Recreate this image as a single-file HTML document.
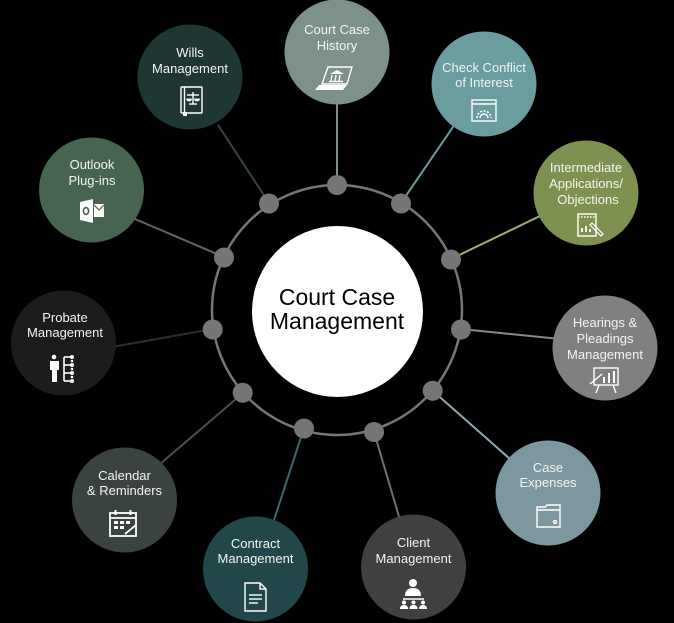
<!DOCTYPE html>
<html><head><meta charset="utf-8"><style>
html,body{margin:0;padding:0;background:#000;}
svg{display:block;}
text{font-family:"Liberation Sans",Arial,sans-serif;}
</style></head><body>
<svg width="674" height="623" viewBox="0 0 674 623" xmlns="http://www.w3.org/2000/svg">
<rect width="674" height="623" fill="#000"/>
<!-- connectors -->
<g stroke-width="2" fill="none">
<line x1="269" y1="203" x2="218" y2="125" stroke="#34463f"/>
<line x1="337" y1="185" x2="337" y2="100" stroke="#7f8f8a"/>
<line x1="401" y1="203" x2="455" y2="124" stroke="#6d9a9e"/>
<line x1="451" y1="259" x2="540" y2="216" stroke="#a4ae72"/>
<line x1="461" y1="329" x2="560" y2="339" stroke="#8a8a8a"/>
<line x1="433" y1="391" x2="510" y2="459" stroke="#8ea6ad"/>
<line x1="374" y1="432" x2="400" y2="520" stroke="#707070"/>
<line x1="304" y1="428" x2="274" y2="520" stroke="#3b6a6c"/>
<line x1="243" y1="393" x2="160" y2="464" stroke="#4a4f4b"/>
<line x1="213" y1="329" x2="112" y2="347" stroke="#2e2e2e"/>
<line x1="224" y1="257" x2="135" y2="219" stroke="#5b6d60"/>
</g>
<!-- ring -->
<circle cx="337" cy="310" r="125" fill="none" stroke="#767676" stroke-width="2.5"/>
<g fill="#767676">
<circle cx="337" cy="185" r="10"/>
<circle cx="269" cy="203.5" r="10"/>
<circle cx="401" cy="203.5" r="10"/>
<circle cx="224" cy="257.5" r="10"/>
<circle cx="451" cy="259.5" r="10"/>
<circle cx="212.7" cy="329.5" r="10"/>
<circle cx="461" cy="329.5" r="10"/>
<circle cx="242.7" cy="392.7" r="10"/>
<circle cx="432.7" cy="390.7" r="10"/>
<circle cx="304" cy="428.5" r="10"/>
<circle cx="374" cy="432" r="10"/>
</g>
<!-- center -->
<circle cx="337.5" cy="311.5" r="85.5" fill="#fff"/>
<text x="337" y="305" font-size="23" text-anchor="middle" fill="#000">Court Case</text>
<text x="337" y="329" font-size="23" text-anchor="middle" fill="#000">Management</text>

<!-- outer circles -->
<g>
<circle cx="190" cy="77" r="52.5" fill="#1e3733"/>
<circle cx="337" cy="52" r="52.5" fill="#7d918c"/>
<circle cx="484" cy="84" r="52.5" fill="#6a9ca0"/>
<circle cx="586" cy="193" r="52.5" fill="#7e9150"/>
<circle cx="605" cy="348" r="52.5" fill="#808080"/>
<circle cx="548" cy="493" r="52.5" fill="#7c97a0"/>
<circle cx="413.5" cy="567" r="52.5" fill="#404040"/>
<circle cx="255.5" cy="569" r="52.5" fill="#22474b"/>
<circle cx="124.5" cy="500" r="52.5" fill="#3b433e"/>
<circle cx="63.5" cy="343" r="52.5" fill="#1c1c1c"/>
<circle cx="91.5" cy="190" r="52.5" fill="#46644f"/>
</g>

<!-- labels -->
<g font-size="13" fill="#f4f4f4" text-anchor="middle">
<text x="190" y="57">Wills</text>
<text x="190" y="73">Management</text>
<text x="337" y="34">Court Case</text>
<text x="337" y="50">History</text>
<text x="484" y="72">Check Conflict</text>
<text x="484" y="87">of Interest</text>
<text x="586" y="172">Intermediate</text>
<text x="586" y="188">Applications/</text>
<text x="588" y="204">Objections</text>
<text x="605" y="327">Hearings &amp;</text>
<text x="605" y="343">Pleadings</text>
<text x="605" y="359">Management</text>
<text x="548" y="472">Case</text>
<text x="548" y="487">Expenses</text>
<text x="413.5" y="547">Client</text>
<text x="413.5" y="563">Management</text>
<text x="255.5" y="548">Contract</text>
<text x="255.5" y="563">Management</text>
<text x="124.5" y="480">Calendar</text>
<text x="124.5" y="495">&amp; Reminders</text>
<text x="65" y="322">Probate</text>
<text x="65" y="337">Management</text>
<text x="92" y="169">Outlook</text>
<text x="92" y="185">Plug-ins</text>
</g>

<!-- icons -->
<g stroke="#fff" fill="none" stroke-width="1.4">
<!-- Wills: book with scales -->
<rect x="181" y="87" width="21" height="26" rx="1"/>
<line x1="184.5" y1="87" x2="184.5" y2="113"/>
<rect x="183" y="112" width="4" height="4" fill="#fff" stroke="none"/>
<line x1="187" y1="95" x2="199" y2="95"/>
<line x1="193" y1="92" x2="193" y2="104"/>
<line x1="189" y1="104" x2="197" y2="104"/>
<path d="M186.5 99 a2.5 2 0 0 0 5 0 z M194.5 99 a2.5 2 0 0 0 5 0 z" fill="#fff" stroke-width="0.8"/>

<!-- Court history: laptop with building -->
<polygon points="328,67 352,67 347,84 322,84"/>
<polygon points="319,85 347,85 343,90 315,90" fill="#fff" stroke="none"/>
<path d="M330 74 l7 -4 l7 4 z" fill="#fff" stroke="none"/>
<line x1="332" y1="75" x2="331" y2="81"/>
<line x1="336" y1="75" x2="335" y2="81"/>
<line x1="340" y1="75" x2="339" y2="81"/>
<line x1="329" y1="81.5" x2="343" y2="81.5"/>

<!-- Check conflict: window with gear -->
<rect x="472" y="100" width="24" height="21"/>
<line x1="472" y1="104" x2="496" y2="104"/>
<path d="M477 118 a7 7 0 0 1 14 0" stroke-width="1.6" stroke-dasharray="2 1.5"/>
<path d="M480 118 a4 4 0 0 1 8 0"/>

<!-- Intermediate: clipboard + pen -->
<rect x="578" y="214" width="18" height="22"/>
<line x1="578" y1="217" x2="596" y2="217" stroke-dasharray="1.5 1.5"/>
<line x1="582" y1="232" x2="582" y2="228" stroke-width="1.8"/>
<line x1="586" y1="232" x2="586" y2="226" stroke-width="1.8"/>
<line x1="590" y1="232" x2="590" y2="229" stroke-width="1.8"/>
<path d="M590 225 l11 11 l2 -2 l-11 -11 z" stroke-width="1.2"/>

<!-- Hearings: easel with chart -->
<rect x="594" y="368" width="24" height="17"/>
<line x1="604" y1="383" x2="604" y2="377" stroke-width="2"/>
<line x1="609" y1="383" x2="609" y2="373" stroke-width="2"/>
<line x1="614" y1="383" x2="614" y2="371" stroke-width="2"/>
<line x1="599" y1="385" x2="596" y2="393"/>
<line x1="613" y1="385" x2="616" y2="393"/>
<line x1="590" y1="384" x2="602" y2="374"/>

<!-- Case expenses: folder -->
<path d="M537 507 h8 l2 -2 h13 v22 h-23 z"/>
<line x1="537" y1="510" x2="560" y2="510"/>
<circle cx="555" cy="522" r="1.5"/>

<!-- Client: person + team -->
<circle cx="413" cy="583" r="4" fill="#fff" stroke="none"/>
<path d="M405 596 q0 -8 8 -8 q8 0 8 8 z" fill="#fff" stroke="none"/>
<line x1="403" y1="599" x2="424" y2="599"/>
<circle cx="404" cy="602.5" r="2" fill="#fff" stroke="none"/>
<circle cx="413.5" cy="602.5" r="2" fill="#fff" stroke="none"/>
<circle cx="423" cy="602.5" r="2" fill="#fff" stroke="none"/>
<path d="M400 609 q0 -4 4 -4 q4 0 4 4 z M409.5 609 q0 -4 4 -4 q4 0 4 4 z M419 609 q0 -4 4 -4 q4 0 4 4 z" fill="#fff" stroke="none"/>

<!-- Contract: document -->
<path d="M245 583 h15 l6 6 v22 h-21 z"/>
<path d="M260 583 v6 h6"/>
<line x1="249" y1="595" x2="262" y2="595"/>
<line x1="249" y1="599" x2="262" y2="599"/>
<line x1="249" y1="603" x2="258" y2="603"/>

<!-- Calendar -->
<rect x="110" y="513" width="26" height="23" stroke-width="1.8"/>
<line x1="110" y1="518" x2="136" y2="518" stroke-width="1.8"/>
<line x1="115.5" y1="510" x2="115.5" y2="515" stroke-width="2"/>
<line x1="130.5" y1="510" x2="130.5" y2="515" stroke-width="2"/>
<g fill="#fff" stroke="none">
<rect x="114" y="521" width="4" height="3"/><rect x="120" y="521" width="4" height="3"/><rect x="126" y="521" width="4" height="3"/>
<rect x="114" y="526" width="4" height="3"/><rect x="120" y="526" width="4" height="3"/>
</g>
<line x1="125" y1="534" x2="136" y2="525" stroke-width="1.8"/>

<!-- Probate: person + tree -->
<circle cx="54" cy="357" r="2.3" fill="#fff" stroke="none"/>
<path d="M50 361 h9 v9 h-2 v12 h-5 v-12 h-2 z" fill="#fff" stroke="none"/>
<line x1="64" y1="357" x2="64" y2="381" stroke-width="1.6"/>
<line x1="64" y1="357" x2="70" y2="357" stroke-width="1.6"/>
<line x1="64" y1="365" x2="70" y2="365" stroke-width="1.6"/>
<line x1="64" y1="373" x2="70" y2="373" stroke-width="1.6"/>
<line x1="64" y1="381" x2="70" y2="381" stroke-width="1.6"/>
<g fill="#fff" stroke="none">
<circle cx="72" cy="357" r="2"/><circle cx="72" cy="365" r="2"/><circle cx="72" cy="373" r="2"/><circle cx="72" cy="381" r="2"/>
<circle cx="72" cy="361" r="1.3"/><circle cx="72" cy="369" r="1.3"/><circle cx="72" cy="377" r="1.3"/>
</g>

<!-- Outlook -->
<path d="M80 202 l13 -3 v24 l-13 -3 z" fill="#fff" stroke="none"/>
<ellipse cx="86" cy="211" rx="2.6" ry="3.4" stroke="#46644f" stroke-width="1.6"/>
<rect x="94" y="204" width="10" height="13" fill="#fff" stroke="none"/>
<path d="M94 205 l5 5 l5 -5" stroke="#46644f" stroke-width="1.2"/>
</g>
</svg>
</body></html>
